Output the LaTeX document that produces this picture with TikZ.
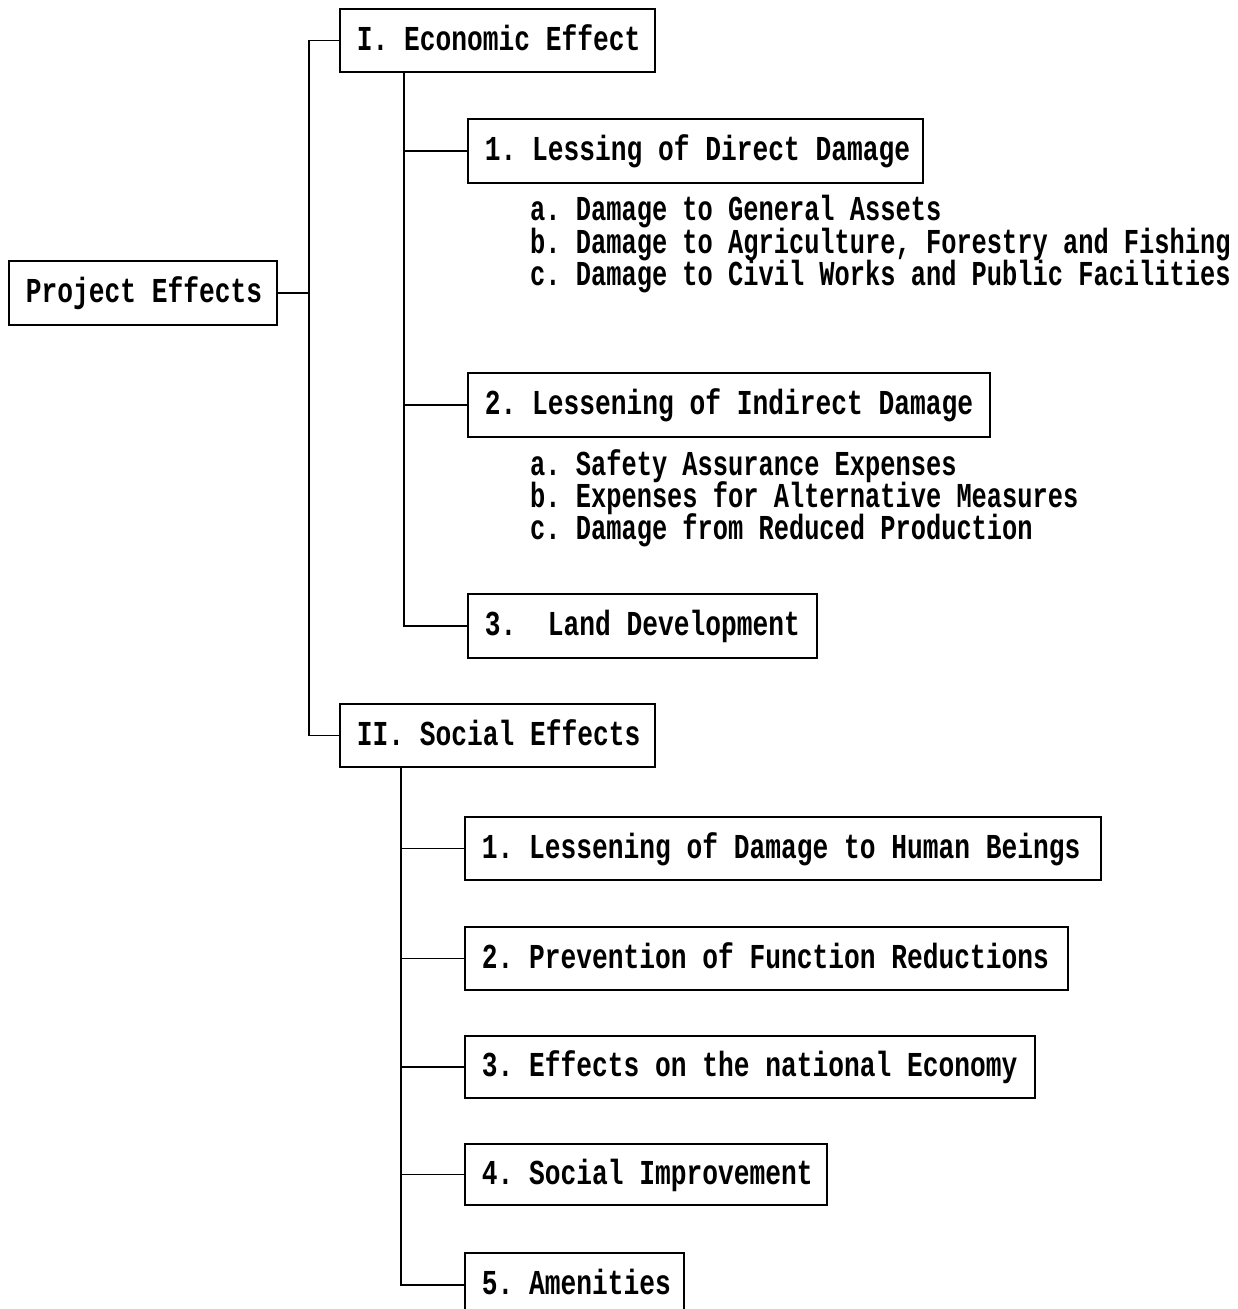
\documentclass[tikz,border=0pt]{standalone}
\usepackage{fontspec}
\newfontfamily\twbox[FakeStretch=0.75]{Liberation Mono}
\newfontfamily\twitem[FakeStretch=0.725]{Liberation Mono}
\newcommand{\fixspaces}{\frenchspacing
  \setbox0\hbox{x}\fontdimen2\font=\wd0 \fontdimen3\font=0pt \fontdimen4\font=0pt
  \spaceskip=\wd0 \xspaceskip=\wd0 }
\newcommand{\boxfont}{\twbox\bfseries\fontsize{35}{38}\selectfont\fixspaces}
\newcommand{\itemfont}{\twitem\bfseries\fontsize{35}{38}\selectfont\fixspaces}
\tikzset{
  box/.style={draw, line width=1.8pt, anchor=north west, inner xsep=17pt, inner ysep=0pt,
    font=\boxfont, text height=26pt, text depth=6pt},
  item/.style={anchor=mid west, inner sep=0pt, font=\itemfont},
  conn/.style={line width=1.8pt}
}
\begin{document}
\begin{tikzpicture}[x=1pt,y=-1pt]
\useasboundingbox (0,0) rectangle (1238,1309);
\clip (0,0) rectangle (1238,1309);
% boxes
\node[box, minimum width=268pt, minimum height=64pt] (PE) at (8,260) {\makebox[234pt][l]{Project Effects}};
\node[box, minimum width=315pt, minimum height=63pt] (I) at (339,8) {\makebox[281pt][l]{I. Economic Effect}};
\node[box, minimum width=455pt, minimum height=64pt] (D1) at (467,118) {\makebox[421pt][l]{1. Lessing of Direct Damage}};
\node[box, minimum width=522pt, minimum height=64pt] (D2) at (467,372) {\makebox[488pt][l]{2. Lessening of Indirect Damage}};
\node[box, minimum width=349pt, minimum height=64pt] (D3) at (467,593) {\makebox[315pt][l]{3.\ \ Land Development}};
\node[box, minimum width=315pt, minimum height=63pt] (II) at (339,703) {\makebox[281pt][l]{II. Social Effects}};
\node[box, minimum width=636pt, minimum height=63pt] (S1) at (464,816) {\makebox[602pt][l]{1. Lessening of Damage to Human Beings}};
\node[box, minimum width=603pt, minimum height=63pt] (S2) at (464,926) {\makebox[569pt][l]{2. Prevention of Function Reductions}};
\node[box, minimum width=570pt, minimum height=62pt] (S3) at (464,1035) {\makebox[536pt][l]{3. Effects on the national Economy}};
\node[box, minimum width=362pt, minimum height=61pt] (S4) at (464,1143) {\makebox[328pt][l]{4. Social Improvement}};
\node[box, minimum width=219pt, minimum height=64pt] (S5) at (464,1252) {\makebox[185pt][l]{5. Amenities}};
% sub-items
\node[item] (a1) at (530,218) {a. Damage to General Assets};
\node[item] (b1) at (530,251) {b. Damage to Agriculture, Forestry and Fishing};
\node[item] (c1) at (530,283) {c. Damage to Civil Works and Public Facilities};
\node[item] (a2) at (530,473) {a. Safety Assurance Expenses};
\node[item] (b2) at (530,505) {b. Expenses for Alternative Measures};
\node[item] (c2) at (530,537) {c. Damage from Reduced Production};
% trunks
\coordinate (t0) at (309,0);
\coordinate (t1) at (404,0);
\coordinate (t2) at (401,0);
\draw[conn] (PE.east) -- (t0 |- PE.east);
\draw[conn] (I.west) -- (t0 |- I.west) -- (t0 |- II.west) -- (II.west);
\draw[conn] (t1 |- I.south) -- (t1 |- D3.west) -- (D3.west);
\draw[conn] (t1 |- D1.west) -- (D1.west);
\draw[conn] (t1 |- D2.west) -- (D2.west);
\draw[conn] (t2 |- II.south) -- (t2 |- S5.west) -- (S5.west);
\draw[conn] (t2 |- S1.west) -- (S1.west);
\draw[conn] (t2 |- S2.west) -- (S2.west);
\draw[conn] (t2 |- S3.west) -- (S3.west);
\draw[conn] (t2 |- S4.west) -- (S4.west);
\end{tikzpicture}
\end{document}
